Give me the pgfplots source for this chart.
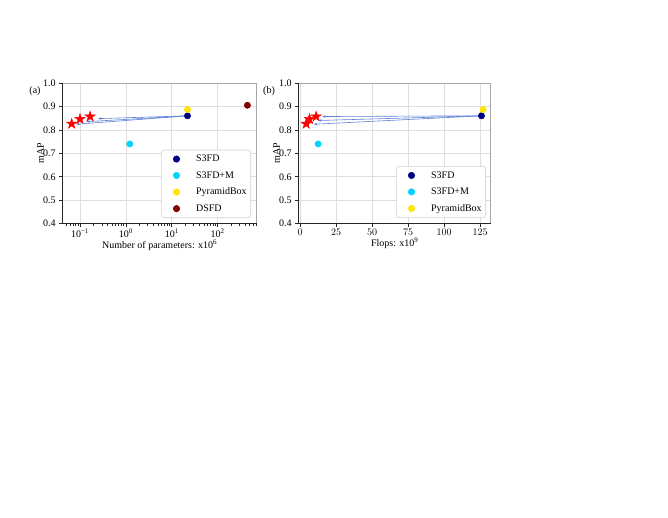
\documentclass[border=0pt]{standalone}
\usepackage{fontspec}
\setmainfont{Liberation Serif}
\usepackage{pgfplots}
\pgfplotsset{compat=1.18}
\usetikzlibrary{arrows.meta}

\definecolor{cS}{RGB}{0,0,128}
\definecolor{cSM}{RGB}{0,212,255}
\definecolor{cPB}{RGB}{255,229,0}
\definecolor{cDS}{RGB}{128,0,0}
\definecolor{arr}{RGB}{95,130,215}

% filled five-point star (like matplotlib's '*')
\pgfdeclareplotmark{fstar}{%
  \pgfpathmoveto{\pgfqpointpolar{90}{\pgfplotmarksize}}%
  \pgfpathlineto{\pgfqpointpolar{126}{0.382\pgfplotmarksize}}%
  \pgfpathlineto{\pgfqpointpolar{162}{\pgfplotmarksize}}%
  \pgfpathlineto{\pgfqpointpolar{198}{0.382\pgfplotmarksize}}%
  \pgfpathlineto{\pgfqpointpolar{234}{\pgfplotmarksize}}%
  \pgfpathlineto{\pgfqpointpolar{270}{0.382\pgfplotmarksize}}%
  \pgfpathlineto{\pgfqpointpolar{306}{\pgfplotmarksize}}%
  \pgfpathlineto{\pgfqpointpolar{342}{0.382\pgfplotmarksize}}%
  \pgfpathlineto{\pgfqpointpolar{18}{\pgfplotmarksize}}%
  \pgfpathlineto{\pgfqpointpolar{54}{0.382\pgfplotmarksize}}%
  \pgfpathclose\pgfusepathqfillstroke}

\pgfplotsset{
  panel/.style={
    scale only axis, height=140.7pt, clip mode=individual,
    ymin=0.4, ymax=1.0, ytick={0.4,0.5,0.6,0.7,0.8,0.9,1.0},
    yticklabel style={/pgf/number format/fixed, /pgf/number format/fixed zerofill,
      /pgf/number format/precision=1, /pgf/number format/assume math mode=true},
    grid=major, major grid style={black!13, line width=0.7pt},
    axis line style={black!35, line width=0.7pt},
    tick align=outside, tick pos=left,
    major tick length=3.5pt, minor tick length=2pt,
    tick style={black!85, line width=0.6pt},
    ylabel={mAP}, ylabel style={yshift=-7.5pt},
    xlabel style={yshift=4.5pt},
    xticklabel style={yshift=1.5pt},
    every axis label/.append style={font=\fontsize{10}{12}\selectfont},
    legend cell align=left,
    legend style={anchor=south east, draw=black!18, line width=0.6pt,
      rounded corners=2.5pt, fill=white, row sep=4.3pt,
      inner xsep=2pt, inner ysep=3pt,
      font=\fontsize{10}{12}\selectfont},
    after end axis/.code={\draw[black!85, line width=0.7pt]
      (rel axis cs:0,1) -- (rel axis cs:0,0) -- (rel axis cs:1,0);},
  },
  dot/.style={only marks, mark=*, mark size=3.2pt, mark options={draw=#1, fill=#1},
    legend image code/.code={\path[draw=none, fill=none] (0cm,0cm) (1.08cm,0cm);
      \draw[mark repeat=2,mark phase=2,##1]
      plot coordinates {(0cm,0cm) (0.46cm,0cm) (1.08cm,0cm)};}},
  arrowline/.style={arr, line width=0.6pt, forget plot,
    -{Latex[length=3.5pt,width=2.6pt]}},
}

\begin{document}
\begin{tikzpicture}[font=\fontsize{10}{12}\selectfont]
\useasboundingbox (0,0) rectangle (668pt,517pt);

% (a) parameters, log scale
\begin{axis}[panel,
    at={(62.7pt,293.3pt)}, anchor=south west, width=194pt,
    xmode=log, xmin=0.042, xmax=710,
    xtick={0.1,1,10,100},
    xticklabels={10\textsuperscript{−1},10\textsuperscript{0},10\textsuperscript{1},10\textsuperscript{2}},
    minor xtick={0.05,0.06,0.07,0.08,0.09,0.2,0.3,0.4,0.5,0.6,0.7,0.8,0.9,
      2,3,4,5,6,7,8,9,20,30,40,50,60,70,80,90,200,300,400,500,600,700},
    xlabel={Number of parameters: x10\textsuperscript{6}},
    legend style={at={(1,0)}, xshift=-5.7pt, yshift=5.7pt},
  ]
\addplot[only marks, mark=fstar, mark size=5.5pt, mark options={draw=red, fill=red}, forget plot]
  coordinates {(0.066,0.826) (0.1,0.846) (0.166,0.857)};
\addplot[arrowline] coordinates {(22,0.86) (0.243,0.848)};
\addplot[arrowline] coordinates {(22,0.86) (0.135,0.835)};
\addplot[arrowline] coordinates {(22,0.86) (0.081,0.824)};
\addplot[dot=cS] coordinates {(22,0.86)};
\addplot[dot=cSM] coordinates {(1.22,0.74)};
\addplot[dot=cPB] coordinates {(22,0.887)};
\addplot[dot=cDS] coordinates {(445,0.905)};
\legend{S3FD,S3FD+M,PyramidBox,DSFD}
\node at (rel axis cs:0,1) [xshift=-27.7pt, yshift=-8pt] {(a)};
\end{axis}

% (b) flops, linear scale
\begin{axis}[panel,
    at={(298.7pt,293.3pt)}, anchor=south west, width=192pt,
    xmin=-1, xmax=132.4,
    xtick={0,25,50,75,100,125},
    xlabel={Flops: x10\textsuperscript{9}},
    legend style={at={(1,0)}, xshift=-4.7pt, yshift=5.7pt},
  ]
\addplot[only marks, mark=fstar, mark size=5.5pt, mark options={draw=red, fill=red}, forget plot]
  coordinates {(4.2,0.826) (6.5,0.846) (11.1,0.857)};
\addplot[arrowline] coordinates {(126,0.86) (15.1,0.857)};
\addplot[arrowline] coordinates {(126,0.86) (12.3,0.840)};
\addplot[arrowline] coordinates {(126,0.86) (9.3,0.824)};
\addplot[dot=cS] coordinates {(126,0.86)};
\addplot[dot=cSM] coordinates {(12.5,0.74)};
\addplot[dot=cPB] coordinates {(127.1,0.887)};
\legend{S3FD,S3FD+M,PyramidBox}
\node at (rel axis cs:0,1) [xshift=-29.7pt, yshift=-8pt] {(b)};
\end{axis}
\end{tikzpicture}
\end{document}
